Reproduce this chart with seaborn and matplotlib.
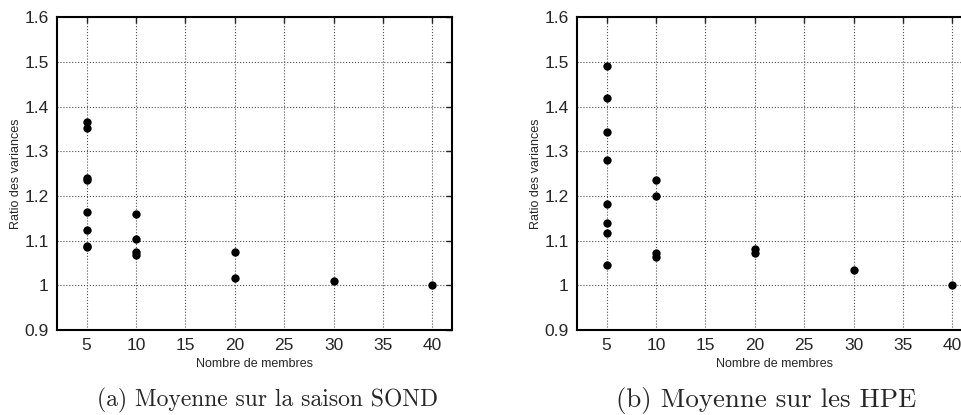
import matplotlib
matplotlib.use('Agg')
import matplotlib.pyplot as plt
import seaborn as sns
import pandas as pd

# Nombre de membres par groupe
membres = [5] * 8 + [10] * 4 + [20] * 2 + [30] + [40]

# (a) Moyenne sur la saison SOND
ratio_sond = [1.366, 1.351, 1.240, 1.236, 1.164, 1.124, 1.089, 1.085,
              1.160, 1.104, 1.075, 1.067,
              1.075, 1.016,
              1.010,
              1.000]

# (b) Moyenne sur les HPE
ratio_hpe = [1.491, 1.419, 1.343, 1.280, 1.181, 1.140, 1.116, 1.046,
             1.236, 1.200, 1.072, 1.063,
             1.081, 1.073,
             1.034,
             1.000]

xticks = [5, 10, 15, 20, 25, 30, 35, 40]
yticks = [0.9, 1.0, 1.1, 1.2, 1.3, 1.4, 1.5, 1.6]
ytick_labels = ['0.9', '1', '1.1', '1.2', '1.3', '1.4', '1.5', '1.6']

sns.set_style('white')
plt.rcParams['font.family'] = ['Liberation Sans', 'DejaVu Sans']


def tracer_panneau(fig, rect, ratios, legende, x_legende, taille_legende):
    ax = fig.add_axes(rect)
    df = pd.DataFrame({'membres': membres, 'ratio': ratios})
    sns.scatterplot(data=df, x='membres', y='ratio', ax=ax, color='black',
                    s=36, edgecolor='black', linewidth=0, zorder=3)
    ax.set_xlim(2, 42)
    ax.set_ylim(0.9, 1.6)
    ax.set_xticks(xticks)
    ax.set_yticks(yticks)
    ax.set_yticklabels(ytick_labels)
    ax.grid(True, linestyle=':', color='#505050', linewidth=0.8)
    ax.tick_params(direction='in', top=True, right=True, length=4,
                   labelsize=12.5, pad=6, width=1)
    for sp in ax.spines.values():
        sp.set_linewidth(1.5)
        sp.set_color('black')
    ax.set_xlabel('Nombre de membres', fontsize=9, labelpad=3)
    ax.set_ylabel('Ratio des variances', fontsize=9, labelpad=2)
    fig.text(x_legende, 0.034, legende, family='cmr10',
             fontsize=taille_legende, ha='center', va='center')
    return ax


fig = plt.figure(figsize=(9.62, 4.15), dpi=100)
tracer_panneau(fig, [0.0593, 0.2048, 0.4106, 0.754], ratio_sond,
               '(a) Moyenne sur la saison SOND', 0.278, 17)
tracer_panneau(fig, [0.5998, 0.2048, 0.4106, 0.754], ratio_hpe,
               '(b) Moyenne sur les HPE', 0.796, 19.4)

plt.savefig('out.png', dpi=100)
plt.close()
